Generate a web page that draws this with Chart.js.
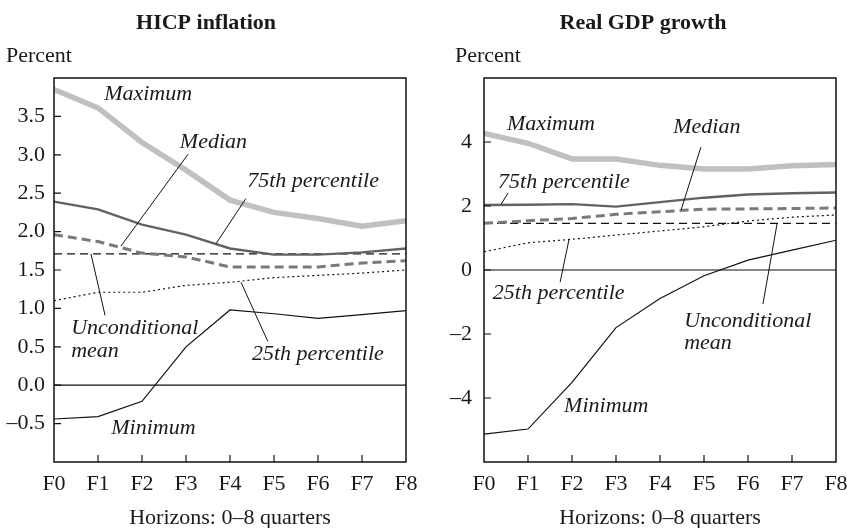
<!DOCTYPE html>
<html>
<head>
<meta charset="utf-8">
<script src="https://cdn.jsdelivr.net/npm/chart.js@4.4.0/dist/chart.umd.min.js"></script>
<style>
body{margin:0;background:#fff;overflow:hidden;}
#wrap{position:relative;width:847px;height:528px;}
#c1{position:absolute;left:0;top:0;}
#c2{position:absolute;left:430px;top:0;}
</style>
</head>
<body>
<div id="wrap">
<canvas id="c1" width="430" height="528"></canvas>
<canvas id="c2" width="417" height="528"></canvas>
</div>
<script>
// horizons, F0..F8 quarters ahead
var horizons = ['F0','F1','F2','F3','F4','F5','F6','F7','F8'];

// HICP inflation, percent
var hicpMax    = [3.85, 3.61, 3.16, 2.80, 2.41, 2.25, 2.17, 2.07, 2.14];
var hicpP75    = [2.39, 2.29, 2.09, 1.96, 1.78, 1.70, 1.70, 1.73, 1.78];
var hicpMedian = [1.96, 1.87, 1.72, 1.67, 1.54, 1.54, 1.54, 1.59, 1.62];
var hicpMean   = [1.71, 1.71, 1.71, 1.71, 1.71, 1.71, 1.71, 1.71, 1.71];
var hicpP25    = [1.10, 1.21, 1.21, 1.30, 1.34, 1.40, 1.43, 1.46, 1.50];
var hicpMin    = [-0.44, -0.41, -0.21, 0.50, 0.98, 0.93, 0.87, 0.92, 0.97];
var hicpTicks  = [-0.5, 0, 0.5, 1, 1.5, 2, 2.5, 3, 3.5];

// Real GDP growth, percent
var gdpMax    = [4.27, 3.96, 3.47, 3.47, 3.27, 3.16, 3.16, 3.26, 3.30];
var gdpP75    = [2.03, 2.04, 2.06, 1.98, 2.12, 2.26, 2.36, 2.40, 2.42];
var gdpMedian = [1.46, 1.54, 1.61, 1.74, 1.82, 1.90, 1.91, 1.92, 1.94];
var gdpMean   = [1.46, 1.46, 1.46, 1.46, 1.46, 1.46, 1.46, 1.46, 1.46];
var gdpP25    = [0.57, 0.85, 0.96, 1.09, 1.22, 1.35, 1.53, 1.65, 1.72];
var gdpMin    = [-5.13, -4.97, -3.51, -1.80, -0.89, -0.18, 0.31, 0.62, 0.93];
var gdpTicks  = [-4, -2, 0, 2, 4];

var serif = '"Liberation Serif", "DejaVu Serif", serif';
Chart.defaults.font.family = serif;
Chart.defaults.font.size = 22;
Chart.defaults.color = '#1a1a1a';

function fmt(v, dec){
    var s = v.toFixed(dec);
    return s.replace('-', '\u2013');
}

// box, inner tick marks, zero line, titles and the italic notes
var frame = {
    id: 'frame',
    beforeDatasetsDraw: function(chart){
        var a = chart.chartArea, y0 = chart.scales.y.getPixelForValue(0), ctx = chart.ctx;
        ctx.save();
        ctx.strokeStyle = '#111';
        ctx.lineWidth = 1.2;
        ctx.beginPath();
        ctx.moveTo(a.left, y0);
        ctx.lineTo(a.right, y0);
        ctx.stroke();
        ctx.restore();
    },
    afterDraw: function(chart, args, o){
        var a = chart.chartArea, ctx = chart.ctx;
        var xs = chart.scales.x, ys = chart.scales.y;
        ctx.save();
        ctx.strokeStyle = '#111';
        ctx.lineWidth = 1.5;
        ctx.strokeRect(a.left, a.top, a.right - a.left, a.bottom - a.top);
        ctx.lineWidth = 1.2;
        ctx.beginPath();
        o.ticks.forEach(function(v){
            var py = ys.getPixelForValue(v);
            ctx.moveTo(a.left, py);
            ctx.lineTo(a.left + 7, py);
        });
        for (var i = 1; i < horizons.length - 1; i++) {
            var px = xs.getPixelForValue(i);
            ctx.moveTo(px, a.bottom);
            ctx.lineTo(px, a.bottom - 7);
        }
        ctx.stroke();

        // leader lines
        ctx.lineWidth = 1;
        ctx.beginPath();
        o.leaders.forEach(function(l){
            ctx.moveTo(xs.getPixelForValue(l[0]), ys.getPixelForValue(l[1]));
            ctx.lineTo(xs.getPixelForValue(l[2]), ys.getPixelForValue(l[3]));
        });
        ctx.stroke();

        ctx.fillStyle = '#1a1a1a';
        ctx.textBaseline = 'alphabetic';
        ctx.font = 'italic 22px ' + serif;
        ctx.textAlign = 'left';
        o.notes.forEach(function(n){
            ctx.fillText(n.text, xs.getPixelForValue(n.x), ys.getPixelForValue(n.y));
        });

        ctx.font = 'bold 22px ' + serif;
        ctx.textAlign = 'center';
        ctx.fillText(o.title, o.titleX, 29);
        ctx.font = '22px ' + serif;
        ctx.fillText('Horizons: 0\u20138 quarters', (a.left + a.right) / 2, 524);
        ctx.textAlign = 'left';
        ctx.fillText('Percent', o.unitX, 62);
        ctx.restore();
    }
};

function makeChart(id, d, cfg){
    var sets = [
        {label: 'Maximum', data: d.max, borderColor: '#c0c0c0', borderWidth: 5.5},
        {label: '75th percentile', data: d.p75, borderColor: '#626262', borderWidth: 2.4},
        {label: 'Median', data: d.median, borderColor: '#7a7a7a', borderWidth: 3, borderDash: [9, 5]},
        {label: 'Unconditional mean', data: d.mean, borderColor: '#111', borderWidth: 1.2, borderDash: [8, 5]},
        {label: '25th percentile', data: d.p25, borderColor: '#111', borderWidth: 1.2, borderDash: [2, 3]},
        {label: 'Minimum', data: d.min, borderColor: '#111', borderWidth: 1.2}
    ];
    sets.forEach(function(s){
        s.pointRadius = 0;
        s.tension = 0;
        s.fill = false;
        s.borderCapStyle = 'butt';
    });
    return new Chart(document.getElementById(id), {
        type: 'line',
        data: {labels: horizons, datasets: sets},
        plugins: [frame],
        options: {
            responsive: false,
            animation: false,
            devicePixelRatio: 1,
            layout: {padding: {top: 78, left: 0, right: cfg.padRight, bottom: 0}},
            plugins: {
                legend: {display: false},
                tooltip: {enabled: false},
                frame: cfg.frame
            },
            scales: {
                x: {
                    offset: false,
                    grid: {display: false, drawTicks: false},
                    border: {display: false},
                    ticks: {padding: 9, maxRotation: 0, autoSkip: false},
                    afterFit: function(s){ s.height = 66; s.paddingLeft = 0; s.paddingRight = 0; }
                },
                y: {
                    min: cfg.min, max: cfg.max,
                    grid: {display: false, drawTicks: false},
                    border: {display: false},
                    ticks: {
                        stepSize: cfg.step,
                        padding: cfg.tickPad,
                        callback: function(v){ return cfg.frame.ticks.indexOf(v) < 0 ? '' : fmt(v, cfg.dec); }
                    },
                    afterFit: function(s){ s.width = 54; s.paddingTop = 0; s.paddingBottom = 0; }
                }
            }
        }
    });
}

makeChart('c1',
    {max: hicpMax, p75: hicpP75, median: hicpMedian, mean: hicpMean, p25: hicpP25, min: hicpMin},
    {min: -1, max: 4, step: 0.5, dec: 1, tickPad: 9, padRight: 24,
     frame: {
        title: 'HICP inflation', titleX: 206, unitX: 6, ticks: hicpTicks,
        notes: [
            {text: 'Maximum', x: 1.14, y: 3.72},
            {text: 'Median', x: 2.86, y: 3.09},
            {text: '75th percentile', x: 4.39, y: 2.58},
            {text: 'Unconditional', x: 0.39, y: 0.665},
            {text: 'mean', x: 0.39, y: 0.365},
            {text: '25th percentile', x: 4.5, y: 0.326},
            {text: 'Minimum', x: 1.3, y: -0.64}
        ],
        leaders: [
            [3.05, 3.01, 1.52, 1.81],
            [4.36, 2.43, 3.68, 1.84],
            [0.84, 1.71, 1.16, 0.91],
            [4.25, 1.34, 4.86, 0.57]
        ]
     }});

makeChart('c2',
    {max: gdpMax, p75: gdpP75, median: gdpMedian, mean: gdpMean, p25: gdpP25, min: gdpMin},
    {min: -6, max: 6, step: 2, dec: 0, tickPad: 12, padRight: 11,
     frame: {
        title: 'Real GDP growth', titleX: 213, unitX: 25, ticks: gdpTicks,
        notes: [
            {text: 'Maximum', x: 0.52, y: 4.38},
            {text: 'Median', x: 4.3, y: 4.28},
            {text: '75th percentile', x: 0.32, y: 2.56},
            {text: '25th percentile', x: 0.2, y: -0.91},
            {text: 'Unconditional', x: 4.55, y: -1.78},
            {text: 'mean', x: 4.55, y: -2.47},
            {text: 'Minimum', x: 1.82, y: -4.44}
        ],
        leaders: [
            [4.93, 3.84, 4.48, 1.88],
            [0.55, 2.41, 0.39, 2.06],
            [1.93, 0.94, 1.73, -0.38],
            [6.66, 1.44, 6.34, -1.06]
        ]
     }});
</script>
</body>
</html>
